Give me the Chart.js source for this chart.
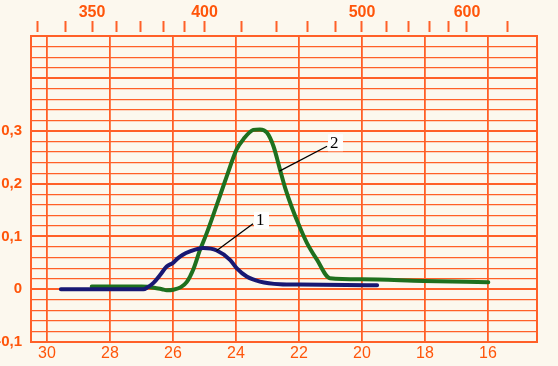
<!DOCTYPE html>
<html><head><meta charset="utf-8">
<script src="https://cdn.jsdelivr.net/npm/chart.js@4/dist/chart.umd.min.js"></script>
<style>html,body{margin:0;padding:0;background:#fcf8ee;overflow:hidden}#wrap{width:558px;height:366px;position:relative}</style>
</head><body><div id="wrap"><canvas id="c"></canvas></div>
<script>
// bottom axis: wavenumber (10^3 cm^-1), top axis: wavelength (nm)
const wavenumberTicks = [30, 28, 26, 24, 22, 20, 18, 16];
const wavelengthTicks = [330, 340, 350, 360, 370, 380, 390, 400, 420, 440, 460, 480, 500, 520, 540, 560, 580, 600, 650];
const wavelengthLabels = [350, 400, 500, 600];
const absorbanceLabels = [-0.1, 0, 0.1, 0.2, 0.3];

// curve 1 (blue)
const curve1Nu = [29.56, 28.5, 27.5, 26.94, 26.80, 26.62, 26.41, 26.2, 26.0, 25.86, 25.70, 25.46, 25.04, 24.61, 24.19, 23.98, 23.66, 23.24, 22.6, 21.97, 20.5, 19.52];
const curve1A  = [0.0, 0.0, 0.0, 0.0, 0.004, 0.012, 0.027, 0.043, 0.050, 0.058, 0.065, 0.0716, 0.078, 0.0735, 0.0558, 0.040, 0.024, 0.0145, 0.0095, 0.0088, 0.008, 0.0076];

// curve 2 (green)
const curve2Nu = [28.58, 27.8, 27.0, 26.6, 26.35, 26.2, 25.99, 25.75, 25.56, 25.36, 25.14, 24.95, 24.62, 24.30, 23.98, 23.77, 23.45, 23.24, 23.02, 22.81, 22.60, 22.44, 22.22, 21.97, 21.75, 21.43, 21.02, 20.01, 18.05, 15.99];
const curve2A  = [0.005, 0.005, 0.005, 0.003, 0.0, -0.002, -0.001, 0.004, 0.014, 0.037, 0.075, 0.103, 0.158, 0.213, 0.265, 0.284, 0.302, 0.303, 0.297, 0.271, 0.226, 0.192, 0.154, 0.117, 0.088, 0.056, 0.021, 0.019, 0.0158, 0.0133];

// callouts
const calloutText = ['1', '2'];
const calloutAnchorNu = [24.62, 22.62];
const calloutAnchorA = [0.073, 0.224];
const calloutEndNu = [23.46, 21.11];
const calloutEndA = [0.124, 0.271];

const ORANGE = 'rgb(255,96,40)';
const ORANGE_TXT = 'rgb(255,85,10)';

function pts(nu, a) { return nu.map((v, i) => ({x: v, y: a[i]})); }
function near(v, arr) { return arr.some(t => Math.abs(t - v) < 1e-6); }

const callouts = {
  id: 'callouts',
  afterDatasetsDraw(chart) {
    const ctx = chart.ctx, sx = chart.scales.x, sy = chart.scales.y;
    ctx.save();
    for (let i = 0; i < calloutText.length; i++) {
      const x0 = sx.getPixelForValue(calloutAnchorNu[i]), y0 = sy.getPixelForValue(calloutAnchorA[i]);
      const x1 = sx.getPixelForValue(calloutEndNu[i]), y1 = sy.getPixelForValue(calloutEndA[i]);
      ctx.strokeStyle = '#000'; ctx.lineWidth = 1.3;
      ctx.beginPath(); ctx.moveTo(x0, y0); ctx.lineTo(x1, y1); ctx.stroke();
      ctx.fillStyle = '#fff';
      ctx.fillRect(x1 + 1, y1 - 12, 15, 17);
      ctx.fillStyle = '#000';
      ctx.font = '17px "Liberation Serif", serif';
      ctx.textAlign = 'left'; ctx.textBaseline = 'middle';
      ctx.fillText(calloutText[i], x1 + 3, y1 - 3);
    }
    ctx.restore();
  }
};

new Chart(document.getElementById('c'), {
  type: 'line',
  data: {
    datasets: [
      {label: '1', data: pts(curve1Nu, curve1A), borderColor: 'rgb(24,24,115)', borderWidth: 4, pointRadius: 0, cubicInterpolationMode: 'monotone', xAxisID: 'x', yAxisID: 'y', borderCapStyle: 'round'},
      {label: '2', data: pts(curve2Nu, curve2A), borderColor: 'rgb(30,112,30)', borderWidth: 4, pointRadius: 0, cubicInterpolationMode: 'monotone', xAxisID: 'x', yAxisID: 'y', borderCapStyle: 'round'}
    ]
  },
  options: {
    responsive: true, maintainAspectRatio: false, animation: false,
    layout: {padding: {left: 0, right: 21, top: 0, bottom: 0}},
    plugins: {legend: {display: false}, tooltip: {enabled: false}},
    scales: {
      x: {
        type: 'linear', position: 'bottom', reverse: true, min: 14.444, max: 30.508,
        afterBuildTicks: s => { s.ticks = wavenumberTicks.map(v => ({value: v})); },
        afterFit: s => { s.height = 24; },
        ticks: {autoSkip: false, maxRotation: 0, padding: 2, color: ORANGE_TXT, font: {family: '"Liberation Sans", Arial, sans-serif', size: 16}},
        grid: {color: ORANGE, lineWidth: 1.8, drawTicks: false},
        border: {display: true, color: ORANGE, width: 2}
      },
      x2: {
        type: 'linear', position: 'top', reverse: true, min: 14.444, max: 30.508,
        afterBuildTicks: s => { s.ticks = wavelengthTicks.map(l => ({value: 10000 / l})); },
        afterFit: s => { s.height = 36; },
        ticks: {
          autoSkip: false, maxRotation: 0, padding: -1, color: ORANGE_TXT,
          font: {family: '"Liberation Sans", Arial, sans-serif', size: 16, weight: 'bold'},
          callback: v => { const l = Math.round(10000 / v); return wavelengthLabels.includes(l) ? String(l) : ''; }
        },
        grid: {drawOnChartArea: false, tickLength: 15, tickBorderDash: [11, 20], tickWidth: 2, tickColor: ORANGE, color: ORANGE},
        border: {display: true, color: ORANGE, width: 2}
      },
      y: {
        type: 'linear', position: 'left', min: -0.1, max: 0.48,
        afterBuildTicks: s => { const t = []; for (let k = -5; k <= 24; k++) t.push({value: k / 50}); s.ticks = t; },
        afterFit: s => { s.width = 31; },
        ticks: {
          autoSkip: false, padding: 9, color: ORANGE_TXT,
          font: {family: '"Liberation Sans", Arial, sans-serif', size: 15, weight: 'bold'},
          callback: v => near(v, absorbanceLabels) ? (Math.abs(v) < 1e-9 ? '0' : v.toFixed(1).replace('.', ',')) : ''
        },
        grid: {
          color: ORANGE, drawTicks: false,
          lineWidth: c => (Math.abs(Math.round(c.tick.value * 10) - c.tick.value * 10) < 1e-6) ? 2 : 1.2
        },
        border: {display: true, color: ORANGE, width: 2}
      },
      y2: {
        type: 'linear', position: 'right', min: -0.1, max: 0.48,
        afterFit: s => { s.width = 0; },
        ticks: {display: false},
        grid: {drawOnChartArea: false, drawTicks: false},
        border: {display: true, color: ORANGE, width: 2}
      }
    }
  },
  plugins: [callouts]
});
</script></body></html>
